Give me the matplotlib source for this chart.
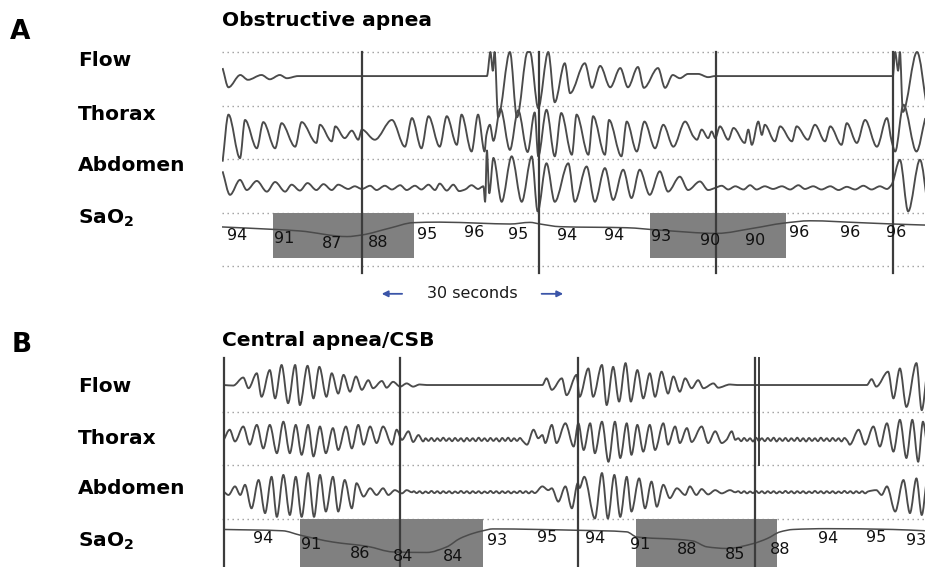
import numpy as np
import matplotlib.pyplot as plt
from matplotlib.path import Path
from matplotlib.patches import PathPatch

# time in seconds, deflection in tenths of a channel band (positive = up)

# ---- panel A: obstructive apnea ----
a_flow_t = [0.1, 1.1, 3.1, 4.4, 6.7, 8.1, 9.8, 11.0, 12.9, 44.9, 45.5, 45.9, 46.2, 46.8,
            48.8, 50.0, 51.8, 52.2, 53.6, 55.3, 56.4, 58.1, 59.0, 61.5, 62.7, 64.1, 65.8,
            67.5, 68.8, 70.5, 71.5, 73.9, 75.1, 76.4, 77.6, 79.0, 80.7, 82.4, 83.6, 113.7,
            114.1, 114.6, 114.9, 115.4, 117.8, 119.5]
a_flow_v = [1.5, -2.1, 0.2, -0.7, 0.2, -0.6, 0.2, -0.4, 0.0, 0.0, 4.5, 1.0, 4.5, -7.7,
            4.5, -7.7, 4.5, 4.5, -6.0, 4.5, -4.9, 2.4, -3.2, 2.4, -2.2, 1.9, -2.1,
            1.5, -2.1, 1.7, -2.2, 1.5, -2.2, 0.2, -0.4, 0.4, 0.4, -0.2, 0.0, 0.0,
            4.5, 1.0, 4.5, -6.7, 4.5, -6.0]

a_thorax_t = [0.1, 1.1, 3.05, 3.9, 5.9, 7.0, 9.0, 10.1, 12.4, 13.5, 16.0, 16.6, 18.6, 19.2,
              20.8, 22.0, 23.1, 23.7, 25.9, 28.8, 31.0, 32.2, 33.8, 35.0, 36.9, 38.1, 39.8,
              40.6, 42.3, 43.4, 44.5, 44.8, 45.4, 46.0, 47.2, 48.8, 50.2, 51.8, 53.0, 53.6,
              55.0, 56.4, 57.5, 59.3, 60.1, 62.1, 62.9, 64.9, 65.6, 67.7, 68.6, 70.3, 71.6,
              73.4, 74.8, 76.5, 78.5, 79.9, 80.5, 81.3, 82.4, 83.0, 83.6, 84.4, 85.8, 86.7,
              88.6, 89.2, 89.8, 90.9, 91.5, 92.0, 93.7, 94.6, 96.6, 97.4, 99.3, 100.5, 102.2,
              103.1, 105.0, 105.9, 107.6, 109.0, 111.0, 112.7, 113.5, 114.1, 115.5, 117.7, 119.2]
a_thorax_v = [-5.4, 3.4, -4.75, 2.4, -2.9, 2.0, -2.9, 1.8, -2.6, 2.0, -1.9, 1.5, -1.6, 1.2,
              -1.0, 0.4, -1.3, 0.6, -1.3, 2.4, -2.6, 2.75, -2.9, 3.1, -2.6, 3.1, -2.25,
              3.4, -3.5, 3.4, -3.5, -0.5, 1.5, -1.5, 4.5, -3.2, 4.2, -3.6, 3.8, -4.4,
              4.3, -4.4, 3.7, -4.1, 3.4, -4.1, 3.1, -4.1, 2.4, -4.4, 2.1, -3.5, 2.1,
              -2.9, 1.5, -2.6, 2.1, -0.7, -1.3, 0.6, -1.0, 0.25, -1.0, 1.2, -1.3, 0.9,
              -1.9, 0.6, -2.25, 2.1, -0.4, 1.5, -1.6, 1.2, -1.6, 1.2, -1.3, 1.5, -1.6,
              1.2, -2.25, 1.8, -1.9, 2.4, -2.6, 2.75, -1.6, -3.5, 5.25, -3.5, 2.75]

a_abdomen_t = [0.1, 1.36, 3.05, 4.2, 5.9, 7.6, 9.0, 10.7, 11.8, 13.2,
               14.5, 16.0, 17.2, 18.6, 19.7, 21.4, 22.5, 23.7, 25.1, 26.2,
               27.6, 28.8, 30.2, 31.3, 32.7, 33.8, 35.0, 36.1, 36.9, 38.1,
               39.2, 40.2, 41.2, 42.3, 43.4, 44.3, 44.6, 44.9, 45.3, 46.0,
               47.4, 49.1, 50.8, 52.5, 53.5, 55.0, 56.4, 58.7, 59.8, 61.8,
               63.2, 64.9, 66.3, 68.0, 69.4, 70.8, 72.5, 74.2, 75.6, 77.6,
               79.0, 81.0, 82.4, 83.6, 84.7, 85.8, 87.0, 88.4, 89.5, 90.6,
               92.0, 93.4, 94.9, 96.3, 97.7, 98.8, 100.2, 101.6, 103.1, 104.5,
               105.9, 107.3, 108.7, 110.1, 111.5, 112.7, 113.5, 114.9, 116.3, 118.3,
               119.7]
a_abdomen_v = [3.1, -1.3, 1.5, -0.4, 1.3, -0.7, 1.1, -0.7, 0.6, -0.5,
               0.9, -0.4, 0.7, -0.4, 0.6, -0.2, 0.3, -0.2, 0.4, -0.4,
               0.4, -0.3, 0.5, -0.4, 0.4, -0.3, 0.6, -0.4, 0.8, -0.5,
               0.6, -0.6, -0.3, 0.5, -0.2, 0.3, -2.6, 7.0, -1.0, 5.6,
               -2.6, 5.9, -2.6, 5.9, -4.4, 4.6, -2.6, 4.6, -2.6, 4.0,
               -2.6, 3.7, -2.25, 3.4, -1.9, 3.4, -1.3, 3.1, -0.7, 2.1,
               -0.4, 1.2, -0.4, 0.0, 0.4, -0.3, 0.3, -0.3, 0.5, -0.3,
               0.3, -0.2, 0.3, -0.3, 0.5, -0.2, 0.3, -0.3, 0.3, -0.4,
               0.2, -0.3, 0.4, -0.3, 0.3, -0.2, 0.6, 5.25, -4.4, 5.25,
               -4.0]

a_sat_t = [0.0, 8.6, 13.2, 21.2, 23.7, 28.5, 32.4, 36.9, 43.7, 48.8, 52.2, 53.9, 57.3,
           68.6, 74.2, 83.9, 90.0, 95.1, 99.7, 108.1, 113.7, 119.2]
a_sat_v = [0.2, -0.25, -0.55, -1.6, -1.3, 0.0, 1.0, 1.1, 0.9, 0.75, 1.05, 0.75, 0.25,
           0.05, -0.4, -1.0, -0.05, 0.9, 1.35, 1.0, 0.75, 0.55]
a_sat_labels = [94, 91, 87, 88, 95, 96, 95, 94, 94, 93, 90, 90, 96, 96, 96]
a_sat_label_t = [2.5, 10.5, 18.6, 26.4, 34.7, 42.7, 50.2, 58.5, 66.4, 74.4, 82.7, 90.3,
                 97.8, 106.4, 114.2]
a_desat = [(8.6, 32.5), (72.5, 95.6)]
a_epochs = [23.7, 53.7, 83.7, 113.7]

# ---- panel B: central apnea / Cheyne-Stokes breathing ----
b_flow_t = [0.3, 1.9, 3.6, 4.5, 5.9, 6.7, 8.1, 9.0, 10.1, 11.2,
            12.4, 13.2, 14.5, 15.5, 16.5, 17.7, 18.6, 19.7, 20.6, 21.7,
            22.7, 23.7, 24.8, 25.6, 27.1, 27.9, 29.0, 30.2, 31.3, 32.4,
            33.5, 34.7, 54.3, 55.0, 55.9, 57.6, 58.4, 60.1, 60.6, 62.1,
            62.9, 64.4, 65.2, 66.3, 67.3, 68.4, 69.3, 70.4, 71.4, 72.5,
            73.4, 74.5, 75.6, 76.5, 77.6, 78.5, 79.6, 80.7, 81.6, 83.3,
            84.1, 86.1, 87.3, 109.3, 110.1, 110.9, 112.9, 113.8, 114.9, 116.0,
            117.7, 118.6, 119.5]
b_flow_v = [0.0, -0.1, 1.4, -0.6, 2.2, -2.2, 2.8, -2.5, 3.75, -3.4,
            3.75, -3.75, 3.6, -2.5, 3.4, -2.2, 2.2, -1.6, 1.9, -1.25,
            1.6, -0.9, 0.9, -0.6, 0.75, -0.5, 0.6, -0.3, 0.3, -0.3,
            0.1, 0.0, 0.0, 1.25, -0.9, 1.25, -1.9, 1.9, -2.2, 3.1,
            -2.2, 3.75, -3.75, 3.4, -3.1, 4.1, -3.1, 2.8, -2.5, 2.2,
            -2.2, 2.5, -1.6, 1.6, -1.25, 1.25, -0.6, 0.9, -0.6, 0.3,
            -0.5, 0.1, 0.0, 0.0, 1.1, -0.3, 2.5, -2.5, 3.1, -4.1,
            4.1, -4.7, 2.5]

b_thorax_t1 = [0.3, 1.3, 2.2, 3.6, 4.7, 5.9, 7.0, 8.1, 9.3, 10.4, 11.5, 12.5, 13.5, 14.6,
               15.5, 16.6, 17.6, 18.8, 19.7, 21.0, 22.0, 23.1, 24.0, 25.1, 26.2, 27.3, 28.8,
               29.6, 30.5, 31.6, 32.4, 33.3, 34.1]
b_thorax_v1 = [0.0, 1.9, -0.3, 2.5, -0.9, 2.8, -1.6, 2.8, -2.5, 3.4, -2.5, 2.8, -2.8, 2.8,
               -3.1, 2.5, -2.5, 2.2, -1.9, 2.5, -1.6, 2.8, -0.9, 2.5, -0.6, 2.5, -0.9,
               1.9, 0.0, 1.6, -0.4, 0.9, -0.3]
b_thorax_t2 = [34.5, 35.0, 35.5, 36.0, 36.5, 37.0, 37.5, 38.0, 38.5, 39.0, 39.5, 40.0,
               40.5, 41.0, 41.5, 42.0, 42.5, 43.0, 43.5, 44.0, 44.5, 45.0, 45.5, 46.0,
               46.5, 47.0, 47.5, 48.0, 48.5, 49.0, 49.5, 50.0, 50.5, 51.0]
b_thorax_v2 = [0.3, -0.2, 0.35, -0.25, 0.3, -0.2, 0.4, -0.2, 0.3, -0.25, 0.35, -0.2,
               0.3, -0.3, 0.35, -0.2, 0.3, -0.25, 0.4, -0.2, 0.3, -0.25, 0.35, -0.2,
               0.3, -0.3, 0.35, -0.2, 0.4, -0.25, 0.3, -0.2, 0.35, -0.25]
b_thorax_t3 = [51.7, 52.8, 53.6, 54.3, 54.8, 55.9, 56.7, 58.2, 59.6, 60.4, 61.3, 62.4,
               63.2, 64.4, 65.5, 66.6, 67.5, 68.6, 69.4, 70.4, 71.4, 72.5, 73.4, 74.8,
               75.6, 76.8, 77.6, 78.8, 79.6, 81.3, 82.4, 83.6, 84.7, 85.5, 86.4, 87.0]
b_thorax_v3 = [-0.9, 1.9, 0.3, 0.9, -0.6, 2.8, -0.6, 3.1, -1.25, 3.1, -1.9, 3.1,
               -2.5, 3.4, -4.1, 3.4, -3.4, 3.1, -2.8, 2.8, -2.2, 2.8, -1.9, 3.1,
               -0.9, 2.5, -0.6, 2.2, -0.4, 2.5, -0.6, 1.6, -0.6, 0.0, 1.6, 0.0]
b_thorax_t4 = [87.5, 88.0, 88.5, 89.0, 89.5, 90.0, 90.5, 91.0, 91.5, 92.0, 92.5, 93.0,
               93.5, 94.0, 94.5, 95.0, 95.5, 96.0, 96.5, 97.0, 97.5, 98.0, 98.5, 99.0,
               99.5, 100.0, 100.5, 101.0, 101.5, 102.0, 102.5, 103.0, 103.5, 104.0,
               104.5, 105.0, 105.5, 106.0]
b_thorax_v4 = [0.3, -0.25, 0.35, -0.2, 0.3, -0.3, 0.4, -0.2, 0.3, -0.25, 0.35, -0.2,
               0.4, -0.3, 0.3, -0.2, 0.35, -0.25, 0.3, -0.2, 0.4, -0.25, 0.3, -0.3,
               0.35, -0.2, 0.3, -0.25, 0.4, -0.2, 0.3, -0.25, 0.35, -0.2,
               0.3, -0.3, 0.35, -0.2]
b_thorax_t5 = [106.4, 107.9, 109.0, 110.4, 111.5, 112.7, 113.8, 114.9, 116.0, 117.0,
               118.0, 118.8, 119.6]
b_thorax_v5 = [-0.9, 1.9, -0.9, 2.5, -1.25, 3.1, -2.2, 3.75, -3.4, 3.75,
               -4.1, 3.4, -2.0]

b_abdomen_t1 = [0.3, 1.1, 2.2, 3.1, 3.9, 5.0, 6.2, 7.3, 8.4, 9.3, 10.4, 11.5, 12.5, 13.5,
                14.6, 15.6, 16.6, 17.6, 18.8, 19.7, 20.8, 22.0, 22.8, 24.0, 25.1, 26.2,
                27.3, 28.2, 29.3, 30.5, 31.3, 32.2]
b_abdomen_v1 = [0.1, -0.5, 1.1, -0.5, 1.4, -3.0, 2.3, -3.9, 2.9, -4.6, 3.25, -4.25, 2.9, -4.6,
                3.6, -4.6, 3.25, -3.6, 2.9, -3.6, 2.3, -3.0, 1.7, -0.8, 0.75, -0.5,
                0.75, -0.5, 0.4, -0.2, 0.4, 0.0]
b_abdomen_t2 = [32.5, 33.0, 33.5, 34.0, 34.5, 35.0, 35.5, 36.0, 36.5, 37.0, 37.5, 38.0,
                38.5, 39.0, 39.5, 40.0, 40.5, 41.0, 41.5, 42.0, 42.5, 43.0, 43.5, 44.0,
                44.5, 45.0, 45.5, 46.0, 46.5, 47.0, 47.5, 48.0, 48.5, 49.0, 49.5, 50.0,
                50.5, 51.0, 51.5, 52.0, 52.5, 53.0]
b_abdomen_v2 = [0.2, -0.15, 0.2, -0.2, 0.15, -0.15, 0.25, -0.15, 0.2, -0.2, 0.2, -0.15,
                0.2, -0.2, 0.15, -0.15, 0.25, -0.15, 0.2, -0.2, 0.2, -0.15, 0.2, -0.2,
                0.15, -0.15, 0.25, -0.15, 0.2, -0.2, 0.2, -0.15, 0.2, -0.2, 0.15, -0.15,
                0.25, -0.15, 0.2, -0.2, 0.2, -0.15]
b_abdomen_t3 = [54.3, 55.3, 55.9, 57.0, 58.2, 59.3, 60.3, 60.6, 61.4, 63.2, 64.4, 65.4,
                66.5, 67.5, 68.6, 69.4, 70.7, 71.7, 72.8, 73.7, 74.8, 75.9, 77.1, 78.5,
                79.3, 80.4, 81.3, 82.4, 83.6, 84.7, 86.1, 87.0]
b_abdomen_v3 = [1.1, 0.4, 0.75, -1.75, 1.1, -3.0, 1.7, 0.8, 2.9, -4.9, 3.6, -4.9,
                3.25, -4.6, 2.9, -3.6, 2.6, -3.0, 2.0, -2.7, 1.4, -1.1, 0.75, -0.5,
                1.1, -0.5, 0.6, -0.4, 0.4, -0.2, 0.4, 0.0]
b_abdomen_t4 = [87.5, 88.0, 88.5, 89.0, 89.5, 90.0, 90.5, 91.0, 91.5, 92.0, 92.5, 93.0,
                93.5, 94.0, 94.5, 95.0, 95.5, 96.0, 96.5, 97.0, 97.5, 98.0, 98.5, 99.0,
                99.5, 100.0, 100.5, 101.0, 101.5, 102.0, 102.5, 103.0, 103.5, 104.0,
                104.5, 105.0, 105.5, 106.0, 106.5, 107.0, 107.5, 108.0, 108.5, 109.0, 109.5]
b_abdomen_v4 = [0.2, -0.15, 0.2, -0.2, 0.15, -0.15, 0.25, -0.15, 0.2, -0.2, 0.2, -0.15,
                0.2, -0.2, 0.15, -0.15, 0.25, -0.15, 0.2, -0.2, 0.2, -0.15, 0.2, -0.2,
                0.15, -0.15, 0.25, -0.15, 0.2, -0.2, 0.2, -0.15, 0.2, -0.2,
                0.15, -0.15, 0.25, -0.15, 0.2, -0.2, 0.2, -0.15, 0.2, -0.2, 0.15]
b_abdomen_t5 = [110.9, 111.8, 112.7, 114.1, 115.5, 116.6, 117.7, 118.6, 119.4]
b_abdomen_v5 = [0.4, -0.5, 1.1, -3.6, 2.3, -3.9, 2.6, -4.25, 2.0]

b_sat_t = [0.3, 10.3, 13.2, 18.8, 24.6, 29.0, 34.7, 38.1, 40.3, 42.5, 44.2, 45.9, 60.2,
           68.6, 70.3, 77.1, 79.8, 82.2, 85.6, 90.0, 92.4, 94.6, 96.8, 102.5, 113.7, 119.2]
b_sat_v = [-0.05, -0.3, -1.1, -2.4, -3.2, -4.25, -4.35, -3.3, -1.75, -0.8, -0.3, 0.05, -0.2,
           -0.5, -1.45, -1.9, -2.2, -3.3, -3.6, -2.7, -1.75, -0.5, -0.05, 0.1, -0.05, -0.3]
b_sat_labels = [94, 91, 86, 84, 84, 93, 95, 94, 91, 88, 85, 88, 94, 95, 93]
b_sat_label_t = [6.9, 15.1, 23.4, 30.7, 39.2, 46.6, 55.1, 63.2, 70.8, 78.8, 87.0, 94.6,
                 102.7, 110.8, 117.6]
b_desat = [(13.2, 44.2), (70.2, 94.1)]
b_epochs = [0.3, 30.2, 60.3, 90.3]
b_marker_t = 91.0

b_thorax_t = b_thorax_t1 + b_thorax_t2 + b_thorax_t3 + b_thorax_t4 + b_thorax_t5
b_thorax_v = b_thorax_v1 + b_thorax_v2 + b_thorax_v3 + b_thorax_v4 + b_thorax_v5
b_abdomen_t = b_abdomen_t1 + b_abdomen_t2 + b_abdomen_t3 + b_abdomen_t4 + b_abdomen_t5
b_abdomen_v = b_abdomen_v1 + b_abdomen_v2 + b_abdomen_v3 + b_abdomen_v4 + b_abdomen_v5

channels = ['Flow', 'Thorax', 'Abdomen', r'SaO$_\mathbf{2}$']

# ---- layout ----
W, H = 925, 567
fig = plt.figure(figsize=(W / 100, H / 100), dpi=100)
fig.patch.set_facecolor('white')

band = 53.5        # px per channel band
x0 = 222           # px where t = 0
pps = 5.9          # px per second
t_max = (W - x0) / pps

trace_c = '#4b4b4b'
line_c = '#3c3c3c'
dot_c = '#9c9c9c'
box_c = '#808080'


def make_axes(top, bottom, band0):
    ax = fig.add_axes([x0 / W, 1 - bottom / H, (W - x0) / W, (bottom - top) / H])
    ax.set_xlim(0, t_max)
    ax.set_ylim((bottom - band0) / band, (top - band0) / band)
    ax.axis('off')
    return ax


def trace(ax, row, base, t, v, lw=1.35):
    # smooth curve through the read-off vertices (monotone cubic Bezier pieces)
    t = np.asarray(t, float)
    y = row + base - np.asarray(v, float) / 10.0
    h = np.diff(t)
    s = np.diff(y) / h
    d = np.zeros_like(y)
    d[0], d[-1] = s[0], s[-1]
    for k in range(1, len(y) - 1):
        if s[k - 1] * s[k] > 0:
            w1 = 2 * h[k] + h[k - 1]
            w2 = h[k] + 2 * h[k - 1]
            d[k] = (w1 + w2) / (w1 / s[k - 1] + w2 / s[k])
    verts = [(t[0], y[0])]
    codes = [Path.MOVETO]
    for k in range(len(h)):
        verts += [(t[k] + h[k] / 3, y[k] + d[k] * h[k] / 3),
                  (t[k + 1] - h[k] / 3, y[k + 1] - d[k + 1] * h[k] / 3),
                  (t[k + 1], y[k + 1])]
        codes += [Path.CURVE4] * 3
    ax.add_patch(PathPatch(Path(verts, codes), fill=False, edgecolor=trace_c,
                           lw=lw, joinstyle='round', zorder=3))


def fig_text(x, y, s, **kw):
    fig.text(x / W, 1 - y / H, s, **kw)


# panel A
axA = make_axes(40, 282, 52)
for r in range(5):
    axA.axhline(r, color=dot_c, lw=1, ls=(0, (1, 2.6)), zorder=1)
for t0, t1 in a_desat:
    axA.add_patch(plt.Rectangle((t0, 3.0), t1 - t0, 0.85, color=box_c, lw=0, zorder=2))
for te in a_epochs:
    axA.plot([te, te], [0, 4.13], color=line_c, lw=1.6, zorder=4)
trace(axA, 0, 0.45, a_flow_t, a_flow_v)
trace(axA, 1, 0.51, a_thorax_t, a_thorax_v)
trace(axA, 2, 0.54, a_abdomen_t, a_abdomen_v)
trace(axA, 3, 0.29, a_sat_t, a_sat_v, lw=1.1)
for t, v in zip(a_sat_label_t, a_sat_labels):
    axA.text(t, 3.383 + (96 - v) * 0.0224, str(v), ha='center', va='center',
             fontsize=11.5, color='#111111', zorder=5)

# 30 seconds scale
axA.annotate('', xy=(26.6, 4.52), xytext=(31.0, 4.52), annotation_clip=False,
             arrowprops=dict(arrowstyle='-|>', color='#3b55a8', lw=1.3, mutation_scale=9))
axA.annotate('', xy=(58.3, 4.52), xytext=(53.7, 4.52), annotation_clip=False,
             arrowprops=dict(arrowstyle='-|>', color='#3b55a8', lw=1.3, mutation_scale=9))
axA.text(42.5, 4.52, '30 seconds', ha='center', va='center', fontsize=11.5,
         color='#1a1a1a', clip_on=False)

# panel B
axB = make_axes(350, 567, 358)
for r in range(1, 4):
    axB.axhline(r, color=dot_c, lw=1, ls=(0, (1, 2.6)), zorder=1)
for t0, t1 in b_desat:
    axB.add_patch(plt.Rectangle((t0, 3.0), t1 - t0, 1.5, color=box_c, lw=0, zorder=2))
for te in b_epochs:
    axB.plot([te, te], [0, 4.5], color=line_c, lw=1.6, zorder=4)
axB.plot([b_marker_t, b_marker_t], [0, 2.0], color=line_c, lw=1.4, zorder=4)
trace(axB, 0, 0.505, b_flow_t, b_flow_v)
trace(axB, 1, 0.53, b_thorax_t, b_thorax_v)
trace(axB, 2, 0.51, b_abdomen_t, b_abdomen_v)
trace(axB, 3, 0.2, b_sat_t, b_sat_v, lw=1.1)
for t, v in zip(b_sat_label_t, b_sat_labels):
    axB.text(t, 3.346 + (95 - v) * 0.0336, str(v), ha='center', va='center',
             fontsize=11.5, color='#111111', zorder=5)

# text labels
fig_text(10, 39, 'A', fontsize=19, fontweight='bold', va='baseline')
fig_text(12, 352, 'B', fontsize=19, fontweight='bold', va='baseline')
fig_text(222, 26.5, 'Obstructive apnea', fontsize=14.5, fontweight='bold', va='baseline')
fig_text(222, 346, 'Central apnea/CSB', fontsize=14.5, fontweight='bold', va='baseline')
for name, yb in zip(channels, [66.5, 119.5, 170.5, 224]):
    fig_text(78, yb, name, fontsize=14.5, fontweight='bold', va='baseline')
for name, yb in zip(channels, [391.5, 443.5, 494, 546.5]):
    fig_text(78, yb, name, fontsize=14.5, fontweight='bold', va='baseline')

fig.savefig('out.png', dpi=100, facecolor='white')
